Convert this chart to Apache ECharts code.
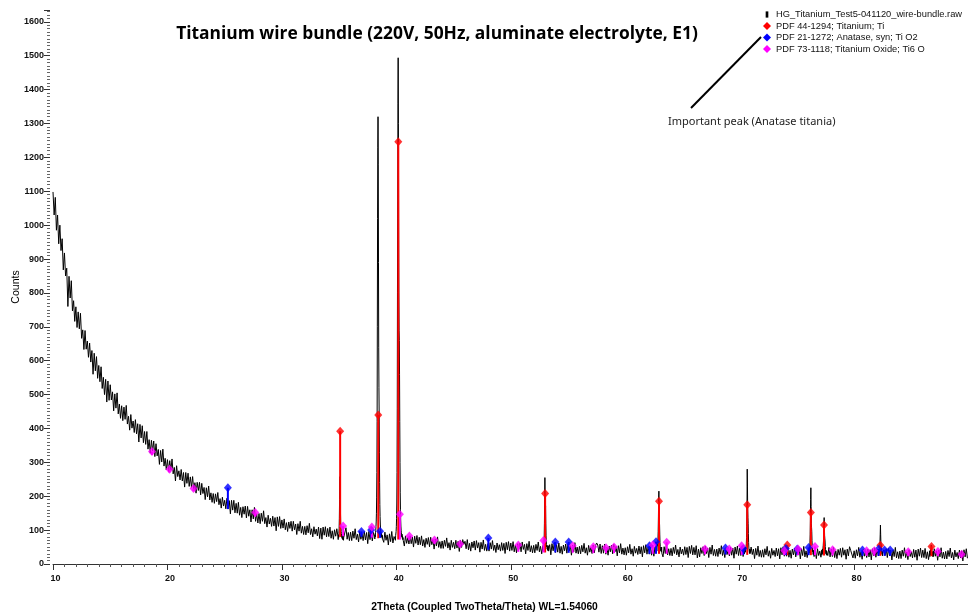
<!DOCTYPE html>
<html>
<head>
<meta charset="utf-8">
<script src="https://cdn.jsdelivr.net/npm/echarts@6.0.0/dist/echarts.min.js"></script>
<style>
  html, body { margin: 0; padding: 0; background: #ffffff; }
  #chart { width: 968px; height: 615px; }
</style>
</head>
<body>
<div id="chart"></div>
<script>
// ---- Scan: coarse background steps (0.1 deg 2Theta) ----
const scanStart = 10.0;
const scanStep = 0.1;
const scanCounts = [
  1098, 1030, 1082, 985, 1030, 945, 1000, 925, 960, 868,
  918, 850, 873, 760, 849, 785, 836, 747, 777, 716,
  759, 698, 744, 694, 740, 666, 691, 633, 689, 634,
  658, 610, 652, 596, 630, 560, 622, 570, 612, 548,
  586, 538, 582, 518, 551, 500, 545, 478, 540, 483,
  529, 484, 508, 452, 502, 460, 505, 443, 472, 430,
  467, 423, 463, 427, 468, 413, 436, 395, 441, 401,
  422, 388, 426, 384, 414, 360, 412, 372, 408, 358,
  391, 353, 391, 339, 367, 327, 365, 334, 363, 317,
  355, 319, 338, 294, 335, 301, 339, 289, 312, 278,
  308, 273, 305, 277, 310, 266, 285, 245, 290, 258,
  275, 248, 279, 245, 270, 227, 270, 238, 268, 229,
  257, 226, 258, 217, 240, 209, 241, 217, 241, 204,
  238, 208, 226, 190, 225, 198, 230, 189, 210, 182,
  208, 179, 207, 184, 211, 175, 193, 165, 197, 171,
  188, 163, 194, 163, 187, 148, 188, 159, 188, 151,
  179, 150, 182, 144, 167, 137, 169, 147, 171, 136,
  170, 141, 160, 124, 160, 133, 167, 126, 148, 121,
  149, 119, 150, 126, 157, 119, 137, 109, 144, 118,
  135, 111, 141, 112, 137, 98, 139, 111, 140, 105,
  130, 106, 133, 101, 122, 96, 124, 105, 126, 97,
  126, 101, 118, 87, 119, 97, 126, 91, 111, 87,
  111, 86, 113, 92, 120, 87, 104, 80, 110, 88,
  103, 83, 109, 75, 106, 73, 109, 85, 110, 80,
  105, 81, 109, 76, 98, 73, 101, 82, 104, 75,
  105, 81, 98, 67, 100, 78, 107, 73, 93, 69,
  94, 69, 97, 76, 104, 72, 88, 65, 96, 73,
  89, 69, 96, 71, 93, 60, 96, 72, 98, 68,
  93, 69, 97, 65, 86, 61, 90, 72, 93, 64,
  94, 70, 86, 56, 89, 66, 96, 62, 81, 58,
  83, 58, 85, 65, 92, 60, 76, 53, 83, 61,
  78, 59, 83, 60, 80, 50, 82, 61, 84, 56,
  79, 57, 83, 53, 72, 49, 76, 58, 78, 51,
  79, 57, 72, 44, 74, 53, 80, 49, 66, 46,
  68, 46, 70, 52, 77, 47, 63, 41, 70, 49,
  64, 45, 70, 47, 67, 37, 70, 49, 72, 58,
  67, 45, 72, 42, 61, 38, 65, 48, 68, 41,
  69, 47, 63, 35, 64, 44, 71, 40, 58, 38,
  60, 38, 63, 44, 69, 40, 56, 34, 62, 42,
  57, 38, 63, 40, 61, 31, 64, 42, 66, 38,
  62, 40, 66, 36, 56, 33, 60, 43, 62, 36,
  65, 43, 58, 30, 60, 40, 67, 36, 54, 33,
  55, 33, 58, 40, 65, 36, 52, 30, 58, 38,
  52, 34, 59, 36, 57, 27, 60, 39, 63, 34,
  57, 35, 62, 32, 52, 29, 56, 39, 59, 32,
  60, 38, 54, 26, 56, 36, 63, 32, 50, 30,
  52, 30, 55, 36, 61, 32, 48, 26, 55, 35,
  49, 31, 56, 33, 54, 62, 56, 35, 59, 31,
  54, 32, 59, 29, 49, 26, 53, 36, 56, 30,
  58, 36, 52, 24, 54, 33, 60, 29, 47, 27,
  48, 26, 51, 33, 58, 29, 45, 23, 52, 32,
  46, 28, 53, 30, 51, 21, 54, 33, 57, 29,
  51, 29, 56, 26, 46, 23, 50, 33, 53, 27,
  55, 33, 49, 21, 51, 31, 58, 27, 45, 25,
  46, 24, 49, 31, 56, 27, 43, 21, 50, 30,
  44, 26, 51, 28, 49, 19, 52, 31, 55, 27,
  49, 27, 54, 18, 44, 21, 48, 31, 51, 25,
  53, 31, 47, 19, 49, 29, 56, 25, 43, 23,
  44, 22, 47, 29, 54, 25, 41, 19, 48, 28,
  42, 24, 49, 26, 47, 17, 50, 29, 53, 25,
  47, 25, 52, 22, 42, 19, 46, 29, 49, 23,
  50, 28, 44, 16, 46, 26, 53, 22, 40, 20,
  42, 20, 45, 27, 52, 23, 39, 17, 46, 26,
  40, 22, 47, 24, 45, 15, 48, 27, 51, 23,
  45, 23, 50, 20, 40, 17, 44, 27, 47, 21,
  49, 27, 43, 15, 45, 25, 52, 21, 39, 19,
  41, 19, 44, 26, 51, 22, 38, 16, 45, 25,
  38, 20, 45, 22, 43, 13, 46, 25, 49, 21,
  44, 22, 49, 19, 39, 16, 43, 26, 46, 20,
  48, 26, 42, 14, 44, 24, 51, 40, 38, 18,
  39, 17, 42, 24, 49, 20, 36, 14, 43, 23,
  37, 19, 44, 21, 42, 12, 45, 24, 48, 20,
  43, 21, 48, 18, 38, 15, 42, 25, 45, 19,
  46, 24, 40, 12, 42, 22, 49, 18, 36, 16,
  38, 16, 41, 23, 48, 19, 35, 13, 42, 22,
  36, 18, 43, 20, 41, 11, 44, 23, 47, 19,
  41, 19, 46, 16, 36, 13, 40, 23, 30, 17,
  45, 23, 39, 11, 41, 21, 48, 17, 35, 15,
  37, 15, 40, 22, 47, 18, 34, 12, 41, 21,
  34, 16, 41, 18, 39, 9, 42, 21, 45, 17
];

// ---- Scan: fine steps (0.02 deg) across the diffraction peaks ----
const fineStep = 0.02;
const peak35 = { start: 34.90, counts: [80, 72, 86, 78, 90, 104, 135, 190, 252, 258, 210, 150, 120, 108, 96, 90, 84, 78, 86, 74, 80, 72, 84, 76, 70, 78] };
const peak38 = { start: 38.10, counts: [82, 74, 86, 80, 92, 98, 110, 124, 150, 195, 270, 420, 700, 1020, 1230, 1320, 1180, 890, 640, 520, 440, 330, 240, 175, 140, 118, 104, 96, 90, 84, 92, 80, 86, 76, 84, 74] };
const peak40 = { start: 39.90, counts: [78, 70, 84, 88, 96, 110, 135, 180, 270, 460, 800, 1030, 1360, 1494, 1300, 1010, 800, 690, 660, 560, 420, 300, 210, 160, 130, 112, 100, 92, 86, 80, 88, 76, 82, 72, 78, 70] };
const peak53 = { start: 52.80, counts: [52, 40, 56, 44, 58, 66, 82, 120, 190, 255, 200, 150, 172, 120, 85, 68, 58, 50, 56, 44, 52, 40, 50, 42, 54, 38] };
const peak63 = { start: 62.70, counts: [48, 34, 52, 38, 50, 46, 54, 60, 72, 96, 140, 190, 215, 160, 110, 116, 86, 64, 52, 46, 50, 38, 48, 36, 50, 32] };
const peak71 = { start: 70.40, counts: [45, 30, 48, 34, 46, 36, 50, 44, 52, 60, 78, 110, 180, 280, 230, 160, 137, 120, 90, 64, 50, 42, 46, 32, 44, 30, 42, 34, 40] };
const peak76 = { start: 76.00, counts: [42, 28, 44, 32, 46, 40, 50, 62, 86, 130, 190, 225, 170, 120, 108, 96, 70, 52, 44, 36, 42, 28, 40, 30] };
const peak77 = { start: 77.16, counts: [40, 26, 42, 30, 44, 36, 48, 54, 66, 84, 112, 137, 110, 84, 76, 68, 52, 42, 38, 30, 40, 26, 38] };
const peak82 = { start: 82.10, counts: [40, 24, 42, 28, 44, 34, 46, 54, 66, 88, 115, 86, 62, 58, 50, 40, 36, 28, 38, 24, 36] };
const peak87 = { start: 86.60, counts: [38, 22, 40, 26, 42, 34, 46, 56, 50, 42, 38, 28, 36, 22, 34, 26, 38, 22] };
const peakScans = [peak35, peak38, peak40, peak53, peak63, peak71, peak76, peak77, peak82, peak87];

// ---- Reference patterns: [2Theta, stick top, stick base] ----
const titaniumSticks = [
  [35.09, 392, 80], [38.42, 440, 76], [40.17, 1246, 72], [53.00, 208, 34],
  [62.95, 185, 30], [70.66, 175, 27], [74.16, 56, 26], [76.22, 152, 26],
  [77.37, 115, 25], [82.29, 55, 24], [86.76, 52, 23]
];
const anataseSticks = [
  [25.28, 225, 162], [36.95, 96, 80], [37.80, 100, 78], [38.58, 97, 77],
  [48.04, 77, 42], [53.89, 65, 34], [55.06, 65, 33], [62.12, 54, 30],
  [62.69, 66, 30], [68.76, 47, 28], [70.31, 46, 27], [74.03, 46, 26],
  [75.03, 44, 26], [76.02, 49, 26], [80.73, 41, 24], [82.14, 44, 24],
  [82.66, 41, 24], [83.15, 41, 24]
];
const ti6oSticks = [
  [18.65, 332, 322], [20.18, 280, 270], [22.28, 223, 215], [27.67, 152, 140],
  [35.35, 112, 82], [37.86, 109, 78], [40.31, 147, 72], [41.14, 83, 70],
  [43.33, 71, 60], [45.57, 59, 50], [50.66, 56, 36], [52.85, 69, 34],
  [55.41, 54, 33], [57.21, 51, 32], [58.32, 48, 32], [59.02, 50, 32],
  [62.40, 56, 30], [63.62, 64, 30], [66.97, 44, 28], [69.09, 44, 28],
  [70.17, 54, 27], [73.90, 39, 26], [75.10, 44, 26], [76.58, 52, 26],
  [78.12, 42, 25], [81.09, 39, 24], [81.76, 39, 24], [84.73, 36, 23],
  [87.32, 37, 23], [89.39, 29, 22]
];

// ---- Labels ----
const chartTitle = 'Titanium wire bundle (220V, 50Hz, aluminate electrolyte, E1)';
const rawName = 'HG_Titanium_Test5-041120_wire-bundle.raw';
const tiName = 'PDF 44-1294; Titanium; Ti';
const anataseName = 'PDF 21-1272; Anatase, syn; Ti O2';
const ti6oName = 'PDF 73-1118; Titanium Oxide; Ti6 O';
const xName = '2Theta (Coupled TwoTheta/Theta) WL=1.54060';
const yName = 'Counts';
const noteText = 'Important peak (Anatase titania)';

// Merge coarse and fine steps into one sorted scan
const fineRanges = peakScans.map(p => [p.start, p.start + (p.counts.length - 1) * fineStep]);
const scanPoints = [];
scanCounts.forEach((c, i) => {
  const x = +(scanStart + i * scanStep).toFixed(2);
  const inside = fineRanges.some(r => x >= r[0] - 1e-6 && x <= r[1] + 1e-6);
  if (!inside) scanPoints.push([x, c]);
});
peakScans.forEach(p => {
  p.counts.forEach((c, i) => scanPoints.push([+(p.start + i * fineStep).toFixed(2), c]));
});
scanPoints.sort((a, b) => a[0] - b[0]);

function stickSeries(name, data, color) {
  return {
    name: name,
    type: 'custom',
    data: data,
    encode: { x: 0, y: [1, 2] },
    z: 3,
    renderItem: function (params, api) {
      const top = api.coord([api.value(0), api.value(1)]);
      const bottom = api.coord([api.value(0), api.value(2)]);
      return {
        type: 'line',
        shape: { x1: top[0], y1: top[1], x2: bottom[0], y2: bottom[1] },
        style: { stroke: color, lineWidth: 2 }
      };
    }
  };
}
function markerSeries(name, data, color) {
  return {
    name: name,
    type: 'scatter',
    data: data.map(d => [d[0], d[1]]),
    symbol: 'diamond',
    symbolSize: [8, 9],
    itemStyle: { color: color },
    z: 4
  };
}

const RED = '#ff0000', BLUE = '#0000ff', MAGENTA = '#ff00ff';
const axisFont = 'Liberation Sans, Arial, sans-serif';

const chart = echarts.init(document.getElementById('chart'), null, { renderer: 'canvas' });
chart.setOption({
  animation: false,
  backgroundColor: '#ffffff',
  title: {
    text: chartTitle,
    left: 432,
    top: 21,
    textAlign: 'center',
    textStyle: { fontFamily: 'Open Sans, sans-serif', fontWeight: 'bold', fontSize: 17.4, color: '#000' }
  },
  legend: {
    orient: 'vertical',
    left: 758,
    top: 5,
    itemWidth: 8,
    itemHeight: 8,
    itemGap: 2.5,
    selectedMode: false,
    textStyle: { fontFamily: axisFont, fontSize: 9.3, color: '#111' },
    data: [
      { name: rawName, icon: 'path://M0,0 L0,0 M3,1 L6,1 L6,8 L3,8 Z M9,9 L9,9', itemStyle: { color: '#000' } },
      { name: tiName, icon: 'diamond', itemStyle: { color: RED } },
      { name: anataseName, icon: 'diamond', itemStyle: { color: BLUE } },
      { name: ti6oName, icon: 'diamond', itemStyle: { color: MAGENTA } }
    ]
  },
  grid: { left: 53, right: 0, top: 10, bottom: 51, containLabel: false, outerBoundsMode: 'none' },
  xAxis: {
    type: 'value',
    min: 10,
    max: 89.95,
    interval: 10,
    offset: 5,
    name: xName,
    nameLocation: 'middle',
    nameGap: 33,
    nameTextStyle: { fontFamily: axisFont, fontSize: 10.3, fontWeight: 'bold', color: '#000', padding: [0, 52, 0, 0] },
    axisLine: { show: true, lineStyle: { color: '#333', width: 1 } },
    axisTick: { show: true, length: 6, lineStyle: { color: '#333' } },
    minorTick: { show: true, splitNumber: 10, length: 3, lineStyle: { color: '#555' } },
    axisLabel: { fontFamily: axisFont, fontSize: 9, fontWeight: 'bold', color: '#111', margin: 5, padding: [0, 0, 0, 5], showMaxLabel: false },
    splitLine: { show: false },
    minorSplitLine: { show: false }
  },
  yAxis: {
    type: 'value',
    min: 0,
    max: 1635,
    interval: 100,
    offset: 3,
    name: yName,
    nameLocation: 'middle',
    nameRotate: 90,
    nameGap: 28,
    nameMoveOverlap: false,
    nameTextStyle: { fontFamily: axisFont, fontSize: 10.5, color: '#000' },
    axisLine: { show: false },
    axisTick: { show: true, length: 6, lineStyle: { color: '#333' } },
    minorTick: { show: true, splitNumber: 10, length: 3, lineStyle: { color: '#666' } },
    axisLabel: {
      fontFamily: axisFont, fontSize: 9, fontWeight: 'bold', color: '#111', margin: 6, showMaxLabel: false,
      formatter: v => String(v)
    },
    splitLine: { show: false },
    minorSplitLine: { show: false }
  },
  series: [
    {
      name: rawName,
      type: 'line',
      data: scanPoints,
      showSymbol: false,
      symbol: 'none',
      lineStyle: { color: '#000', width: 1 },
      itemStyle: { color: '#000' },
      z: 2
    },
    stickSeries(tiName, titaniumSticks, RED),
    stickSeries(anataseName, anataseSticks, BLUE),
    stickSeries(ti6oName, ti6oSticks, MAGENTA),
    markerSeries(tiName, titaniumSticks, RED),
    markerSeries(anataseName, anataseSticks, BLUE),
    markerSeries(ti6oName, ti6oSticks, MAGENTA)
  ],
  graphic: [
    {
      type: 'line',
      shape: { x1: 691, y1: 108, x2: 761, y2: 37 },
      style: { stroke: '#000', lineWidth: 2 },
      z: 10
    },
    {
      type: 'text',
      left: 668,
      top: 116,
      style: { text: noteText, fill: '#222', fontFamily: 'Noto Sans, Open Sans, sans-serif', fontSize: 11 },
      z: 10
    }
  ]
});
</script>
</body>
</html>
